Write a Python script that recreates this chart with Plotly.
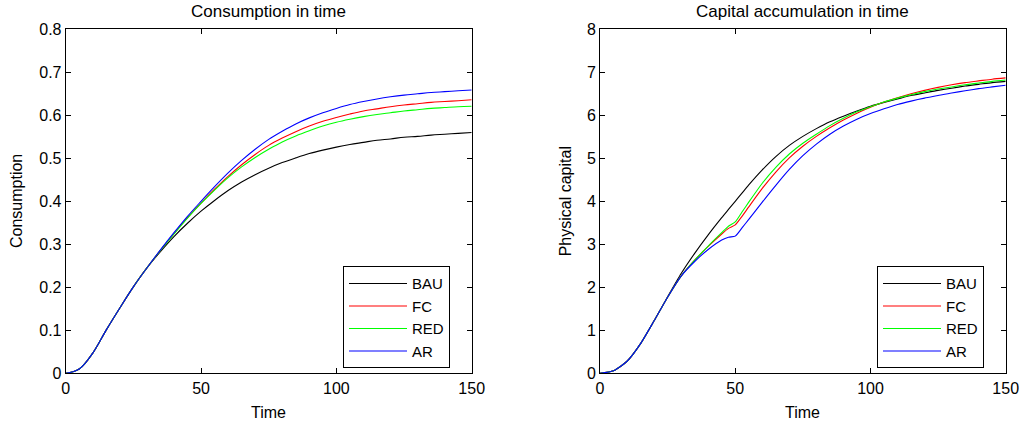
import plotly.graph_objects as go

# ---- data -------------------------------------------------------------
scenarios = ["BAU", "FC", "RED", "AR"]
colors = {"BAU": "#000000", "FC": "#ff0000", "RED": "#00ff00", "AR": "#0000ff"}

# consumption over time
t_cons = [0, 5, 10, 15, 20, 25, 30, 35, 40, 45, 50, 55, 60, 65, 70, 75, 80,
          85, 90, 95, 100, 105, 110, 115, 120, 125, 130, 135, 140, 145, 150]
cons_bau = [0, 0.010, 0.047, 0.101, 0.152, 0.201, 0.245, 0.283, 0.318, 0.349, 0.377,
            0.402, 0.425, 0.445, 0.462, 0.477, 0.490, 0.501, 0.511, 0.519, 0.526,
            0.532, 0.537, 0.542, 0.545, 0.549, 0.551, 0.554, 0.556, 0.558, 0.560]
cons_fc = [0, 0.010, 0.047, 0.101, 0.152, 0.201, 0.245, 0.286, 0.325, 0.362, 0.396,
           0.428, 0.458, 0.485, 0.509, 0.530, 0.547, 0.562, 0.575, 0.586, 0.595,
           0.603, 0.610, 0.615, 0.620, 0.624, 0.627, 0.630, 0.632, 0.634, 0.636]
cons_red = [0, 0.010, 0.047, 0.101, 0.152, 0.201, 0.245, 0.286, 0.324, 0.361, 0.395,
            0.426, 0.455, 0.480, 0.502, 0.521, 0.538, 0.552, 0.564, 0.575, 0.584,
            0.591, 0.597, 0.602, 0.606, 0.610, 0.613, 0.616, 0.618, 0.620, 0.621]
cons_ar = [0, 0.010, 0.047, 0.101, 0.152, 0.201, 0.245, 0.287, 0.327, 0.365, 0.400,
           0.434, 0.466, 0.495, 0.521, 0.544, 0.563, 0.580, 0.594, 0.606, 0.616,
           0.625, 0.632, 0.638, 0.643, 0.647, 0.650, 0.653, 0.655, 0.657, 0.659]

# physical capital over time
t_cap = [0, 5, 10, 15, 20, 25, 30, 35, 40, 45, 47.5, 50, 52.5, 55, 60, 65, 70, 75,
         80, 85, 90, 95, 100, 105, 110, 115, 120, 125, 130, 135, 140, 145, 150]
cap_bau = [0, 0.06, 0.28, 0.69, 1.22, 1.78, 2.32, 2.79, 3.22, 3.62, 3.81, 4.00,
           4.19, 4.38, 4.73, 5.04, 5.30, 5.51, 5.69, 5.85, 5.98, 6.10, 6.21, 6.30,
           6.38, 6.46, 6.52, 6.58, 6.63, 6.68, 6.72, 6.76, 6.79]
cap_fc = [0, 0.06, 0.28, 0.69, 1.22, 1.77, 2.26, 2.63, 2.95, 3.24, 3.37, 3.45,
          3.65, 3.87, 4.30, 4.68, 5.01, 5.28, 5.51, 5.71, 5.89, 6.05, 6.19, 6.31,
          6.41, 6.50, 6.58, 6.65, 6.71, 6.76, 6.80, 6.84, 6.87]
cap_red = [0, 0.06, 0.28, 0.69, 1.22, 1.77, 2.26, 2.63, 2.96, 3.27, 3.42, 3.52,
           3.75, 3.98, 4.42, 4.79, 5.10, 5.35, 5.56, 5.76, 5.93, 6.08, 6.20, 6.31,
           6.40, 6.48, 6.55, 6.61, 6.66, 6.71, 6.75, 6.79, 6.82]
cap_ar = [0, 0.06, 0.28, 0.69, 1.22, 1.77, 2.26, 2.60, 2.88, 3.10, 3.165, 3.19,
          3.38, 3.58, 3.98, 4.37, 4.74, 5.06, 5.33, 5.56, 5.75, 5.91, 6.04, 6.15,
          6.25, 6.33, 6.40, 6.46, 6.52, 6.57, 6.62, 6.66, 6.70]

cons_series = {"BAU": cons_bau, "FC": cons_fc, "RED": cons_red, "AR": cons_ar}
cap_series = {"BAU": cap_bau, "FC": cap_fc, "RED": cap_red, "AR": cap_ar}

x_ticks = [0, 50, 100, 150]
cons_ticks = [0, 0.1, 0.2, 0.3, 0.4, 0.5, 0.6, 0.7, 0.8]
cons_labels = ["0", "0.1", "0.2", "0.3", "0.4", "0.5", "0.6", "0.7", "0.8"]
cap_ticks = [0, 1, 2, 3, 4, 5, 6, 7, 8]

# ---- figure -----------------------------------------------------------
W, H = 1026, 427
FONT = "Liberation Sans, Arial, Helvetica, sans-serif"

fig = go.Figure()

for name in scenarios:
    fig.add_trace(go.Scatter(
        x=t_cons, y=cons_series[name], name=name, mode="lines",
        line=dict(color=colors[name], width=1.1, shape="spline", smoothing=1.0),
        xaxis="x", yaxis="y", legend="legend"))
for name in scenarios:
    fig.add_trace(go.Scatter(
        x=t_cap, y=cap_series[name], name=name, mode="lines",
        line=dict(color=colors[name], width=1.1, shape="spline", smoothing=0.6),
        xaxis="x2", yaxis="y2", legend="legend2"))

# plot-area geometry in pixels
L1, R1 = 65.7, 471.7
L2, R2 = 600.0, 1005.7
TOP, BOT = 29.3, 373.3
ydom = [1 - BOT / H, 1 - TOP / H]

axis_common = dict(
    showline=True, linecolor="black", linewidth=1, mirror="ticks",
    ticks="inside", ticklen=5, tickcolor="black", tickwidth=1,
    showgrid=False, zeroline=False, automargin=False,
    tickfont=dict(family=FONT, size=16, color="black"),
)

legend_common = dict(
    xanchor="right", y=1 - 317.3 / H, yanchor="middle",
    bgcolor="white", bordercolor="black", borderwidth=1,
    font=dict(family=FONT, size=15, color="black"),
    itemwidth=58, tracegroupgap=0,
)

fig.update_layout(
    template="none",
    width=W, height=H,
    margin=dict(l=0, r=0, t=0, b=0, pad=0),
    paper_bgcolor="white", plot_bgcolor="white",
    font=dict(family=FONT, size=16, color="black"),
    xaxis=dict(domain=[L1 / W, R1 / W], range=[0, 150], tickvals=x_ticks,
               anchor="y", **axis_common),
    yaxis=dict(domain=ydom, range=[0, 0.8], tickvals=cons_ticks,
               ticktext=cons_labels, anchor="x", **axis_common),
    xaxis2=dict(domain=[L2 / W, R2 / W], range=[0, 150], tickvals=x_ticks,
                anchor="y2", **axis_common),
    yaxis2=dict(domain=ydom, range=[0, 8], tickvals=cap_ticks,
                anchor="x2", **axis_common),
    legend=dict(x=450 / W, **legend_common),
    legend2=dict(x=984 / W, **legend_common),
    showlegend=True,
)

# titles and axis labels
labels = [
    dict(text="Consumption in time", x=(L1 + R1) / 2, y=11, angle=0, size=17),
    dict(text="Capital accumulation in time", x=(L2 + R2) / 2, y=11, angle=0, size=17),
    dict(text="Time", x=(L1 + R1) / 2, y=412, angle=0, size=16),
    dict(text="Time", x=(L2 + R2) / 2, y=412, angle=0, size=16),
    dict(text="Consumption", x=16.7, y=(TOP + BOT) / 2, angle=-90, size=16),
    dict(text="Physical capital", x=565, y=(TOP + BOT) / 2, angle=-90, size=16),
]
for lb in labels:
    fig.add_annotation(
        text=lb["text"], xref="paper", yref="paper",
        x=lb["x"] / W, y=1 - lb["y"] / H, xanchor="center", yanchor="middle",
        textangle=lb["angle"], showarrow=False,
        font=dict(family=FONT, size=lb["size"], color="black"))

fig.write_html("out.html")
